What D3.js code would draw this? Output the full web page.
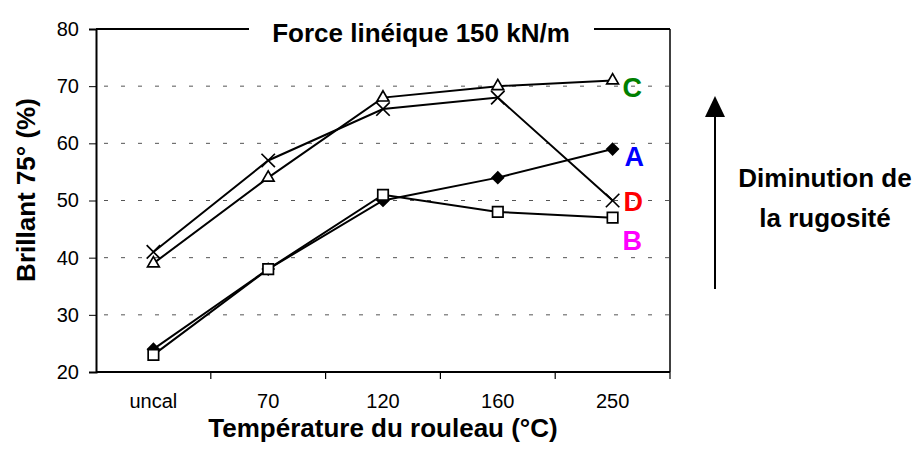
<!DOCTYPE html>
<html>
<head>
<meta charset="utf-8">
<script src="https://cdn.jsdelivr.net/npm/d3@7"></script>
<style>
  body { margin: 0; background: #fff; }
  text { font-family: "Liberation Sans", Arial, sans-serif; }
</style>
</head>
<body>
<div id="chart"></div>
<script>
// categories and values
var categories = ["uncal", "70", "120", "160", "250"];
var yTicks = [20, 30, 40, 50, 60, 70, 80];
var seriesA = [24, 38, 50, 54, 59];
var seriesB = [23, 38, 51, 48, 47];
var seriesC = [39, 54, 68, 70, 71];
var seriesD = [41, 57, 66, 68, 50];
var seriesNames = ["A", "B", "C", "D"];

var width = 916, height = 449;
var margin = {top: 29, right: 246, bottom: 77, left: 96};

var svg = d3.select("#chart").append("svg")
  .attr("width", width)
  .attr("height", height);

var x = d3.scaleBand()
  .domain(categories)
  .range([margin.left, width - margin.right]);

var y = d3.scaleLinear()
  .domain([20, 80])
  .range([height - margin.bottom, margin.top]);

// dashed grid lines
svg.append("g")
  .selectAll("line")
  .data(yTicks.filter(function(d) { return d > 20 && d < 80; }))
  .join("line")
  .attr("x1", margin.left + 8)
  .attr("x2", width - margin.right)
  .attr("y1", function(d) { return y(d); })
  .attr("y2", function(d) { return y(d); })
  .attr("stroke", "#555")
  .attr("stroke-width", 1)
  .attr("stroke-dasharray", "4,13");

// y axis
var yAxis = svg.append("g")
  .attr("transform", "translate(" + margin.left + ",0)")
  .call(d3.axisLeft(y).tickValues(yTicks).tickSize(7).tickPadding(10));
yAxis.select(".domain").attr("stroke", "#000").attr("stroke-width", 2);
yAxis.selectAll("text").attr("font-size", 20).attr("fill", "#000");

// x axis with ticks between the categories
var xAxis = svg.append("g")
  .attr("transform", "translate(0," + y(20) + ")")
  .call(d3.axisBottom(x).tickSize(0).tickPadding(22));
xAxis.select(".domain").remove();
xAxis.selectAll("text").attr("font-size", 20).attr("fill", "#000");

svg.append("line")
  .attr("x1", margin.left).attr("x2", width - margin.right)
  .attr("y1", y(20)).attr("y2", y(20))
  .attr("stroke", "#000").attr("stroke-width", 2);

svg.append("g")
  .selectAll("line")
  .data(categories)
  .join("line")
  .attr("x1", function(d) { return x(d) + x.bandwidth(); })
  .attr("x2", function(d) { return x(d) + x.bandwidth(); })
  .attr("y1", y(20))
  .attr("y2", y(20) + 7)
  .attr("stroke", "#000").attr("stroke-width", 1.2);

// right and top frame
svg.append("line")
  .attr("x1", width - margin.right).attr("x2", width - margin.right)
  .attr("y1", y(80)).attr("y2", y(20))
  .attr("stroke", "#000").attr("stroke-width", 1.5);
svg.append("line")
  .attr("x1", margin.left).attr("x2", width - margin.right)
  .attr("y1", y(80)).attr("y2", y(80))
  .attr("stroke", "#000").attr("stroke-width", 2);

// title over the top frame
svg.append("rect")
  .attr("x", 249).attr("y", 14)
  .attr("width", 345).attr("height", 34)
  .attr("fill", "#fff");
svg.append("text")
  .attr("x", 421).attr("y", 42)
  .attr("text-anchor", "middle")
  .attr("font-size", 26).attr("font-weight", "bold")
  .text("Force linéique 150 kN/m");

// lines and markers
var cx = function(i) { return x(categories[i]) + x.bandwidth() / 2; };
var line = d3.line()
  .x(function(d, i) { return cx(i); })
  .y(function(d) { return y(d); });

var allSeries = [seriesA, seriesB, seriesC, seriesD];
var symbols = [d3.symbolSquare, d3.symbolSquare, d3.symbolTriangle, d3.symbolX];
var symbolSizes = [64, 110, 60, 120];
var symbolRotate = [45, 0, 0, 0];
var symbolFill = ["#000", "#fff", "#fff", "none"];

allSeries.forEach(function(s, k) {
  svg.append("path")
    .datum(s)
    .attr("d", line)
    .attr("fill", "none")
    .attr("stroke", "#000")
    .attr("stroke-width", 2);
});

allSeries.forEach(function(s, k) {
  svg.append("g")
    .selectAll("path")
    .data(s)
    .join("path")
    .attr("transform", function(d, i) {
      return "translate(" + cx(i) + "," + y(d) + ") rotate(" + symbolRotate[k] + ")";
    })
    .attr("d", d3.symbol().type(symbols[k]).size(symbolSizes[k]))
    .attr("fill", symbolFill[k])
    .attr("stroke", "#000")
    .attr("stroke-width", 1.7);
});

// series labels
var labelPos = [
  {name: "A", color: "#0000ff", base: 166, dx: 12},
  {name: "B", color: "#ff00ff", base: 250, dx: 10},
  {name: "C", color: "#008000", base: 97, dx: 10},
  {name: "D", color: "#ff0000", base: 211, dx: 11}
];
svg.append("g")
  .selectAll("text")
  .data(labelPos)
  .join("text")
  .attr("x", function(d) { return cx(4) + d.dx; })
  .attr("y", function(d) { return d.base; })
  .attr("font-size", 27).attr("font-weight", "bold")
  .attr("fill", function(d) { return d.color; })
  .text(function(d) { return d.name; });

// axis titles
svg.append("text")
  .attr("transform", "translate(35,190) rotate(-90)")
  .attr("text-anchor", "middle")
  .attr("font-size", 26).attr("font-weight", "bold")
  .text("Brillant 75° (%)");

svg.append("text")
  .attr("x", 383).attr("y", 437)
  .attr("text-anchor", "middle")
  .attr("font-size", 26).attr("font-weight", "bold")
  .text("Température du rouleau (°C)");

// arrow and annotation
svg.append("polygon")
  .attr("points", "715,96 705,117 725,117")
  .attr("fill", "#000");
svg.append("line")
  .attr("x1", 715).attr("x2", 715)
  .attr("y1", 116).attr("y2", 289)
  .attr("stroke", "#000").attr("stroke-width", 2);

svg.append("text")
  .attr("x", 825).attr("y", 187)
  .attr("text-anchor", "middle")
  .attr("font-size", 26).attr("font-weight", "bold")
  .text("Diminution de");
svg.append("text")
  .attr("x", 825).attr("y", 227)
  .attr("text-anchor", "middle")
  .attr("font-size", 26).attr("font-weight", "bold")
  .text("la rugosité");
</script>
</body>
</html>
